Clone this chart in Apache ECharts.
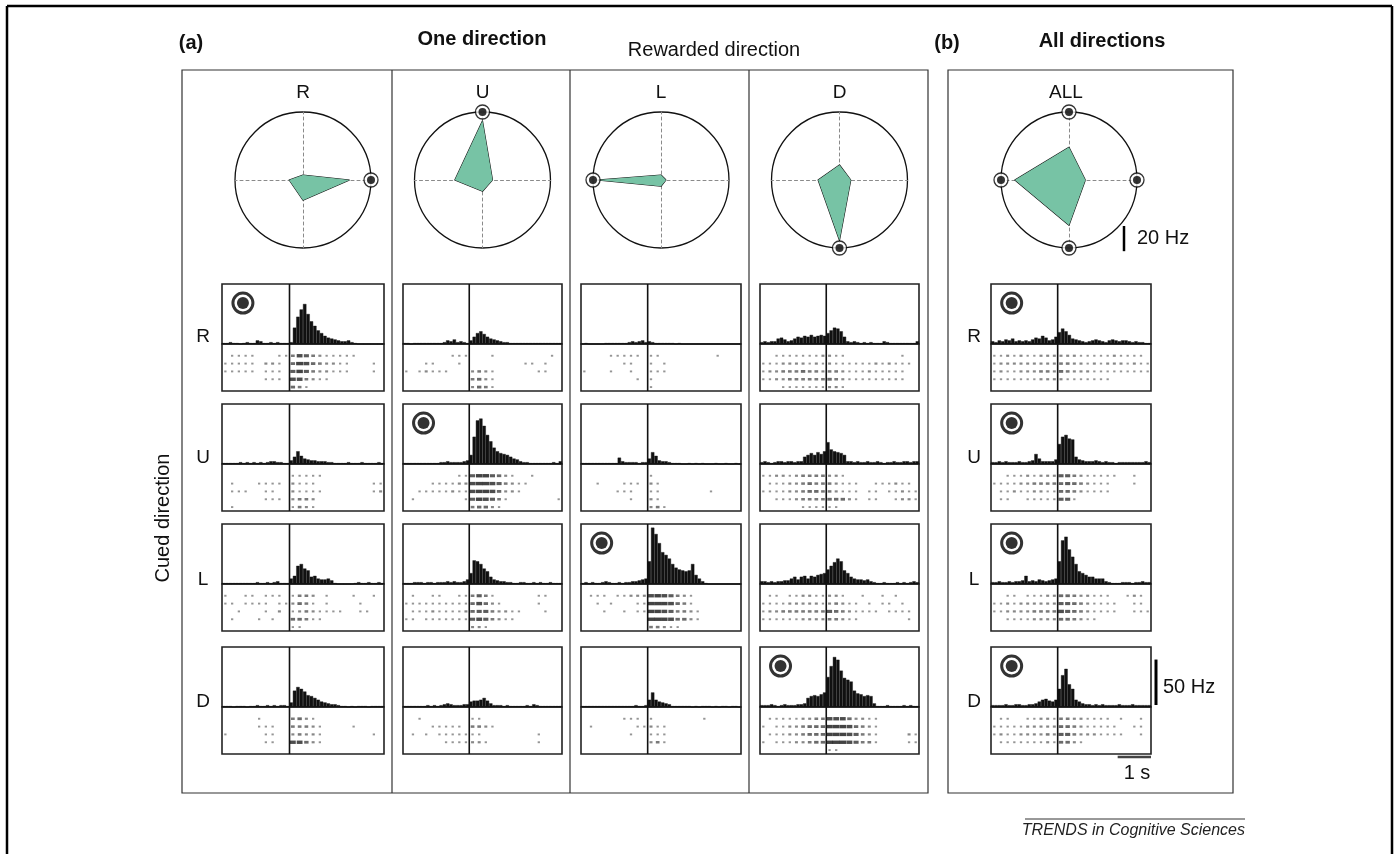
<!DOCTYPE html>
<html><head><meta charset="utf-8">
<script src="https://cdn.jsdelivr.net/npm/echarts@6/dist/echarts.min.js"></script>
<style>html,body{margin:0;padding:0;background:#fff}#c{width:1395px;height:854px}</style>
</head><body><div id="c"></div>
<script>
// ---------------- DATA ----------------
const directions = ['R', 'U', 'L', 'D'];

// Tuning (polar) plots, firing rate in Hz for [R, U, L, D]
const tuningRewR = [37, 4, 11, 16];
const tuningRewU = [8, 47, 22, 9];
const tuningRewL = [4, 4, 51, 5];
const tuningRewD = [9, 12, 17, 48];
const tuningAll  = [13, 26, 43, 36];
const radarMaxHz = 54;

// Rewarded direction(s) for each column
const rewardedR = ['R'];
const rewardedU = ['U'];
const rewardedL = ['L'];
const rewardedD = ['D'];
const rewardedAll = ['R', 'U', 'L', 'D'];

// PSTH time axis (s), 0.1 s bins from -2.0 to 2.8, event at 0
const tMin = -2.0, tMax = 2.8, histBin = 0.1, rasterBin = 0.2, eventTime = 0;
const histMaxHz = 66;
const rasterRows = 6;
const scaleHz = 50, scaleSec = 1, tuningScaleHz = 20;

// PSTH histograms (Hz), name = hist_<rewarded>_<cued>
const hist_R_R = [1,1,2,1,1,0,1,2,1,1,4,3,1,1,2,1,2,1,1,1, 2,18,30,38,44,33,25,20,15,12,9,7,6,5,4,3,3,4,2,1,0,0,0,0,0,0,0,0];
const hist_R_U = [1,1,1,1,1,2,1,2,1,2,1,2,1,2,3,3,2,2,1,1, 4,8,14,9,6,5,4,4,3,3,3,2,2,1,1,1,1,2,1,1,1,2,1,1,1,1,2,1];
const hist_R_L = [1,1,1,1,1,1,1,1,1,1,2,1,1,2,1,2,3,1,1,1, 6,9,20,22,17,15,8,9,6,5,5,6,4,1,0,0,0,0,0,1,2,1,1,2,1,1,2,1];
const hist_R_D = [1,1,1,0,1,1,1,0,1,1,2,1,1,2,1,2,1,2,2,1, 5,18,22,20,17,13,12,10,8,6,5,4,3,3,2,1,1,0,1,0,1,1,1,0,1,1,1,1];

const hist_U_R = [1,1,0,1,1,1,1,1,1,1,1,1,2,4,3,5,2,3,2,1, 4,8,12,14,11,8,6,5,4,3,2,2,1,1,1,1,1,1,1,1,1,1,1,1,1,1,1,1];
const hist_U_U = [1,1,1,1,1,1,1,1,1,1,1,2,2,3,2,2,2,2,3,4, 10,30,48,50,42,32,25,18,14,12,11,10,8,6,5,3,2,2,1,1,1,1,1,1,1,2,1,3];
const hist_U_L = [1,1,1,2,2,2,1,2,2,1,2,2,2,3,2,3,2,2,3,5, 12,26,25,22,17,14,8,5,4,3,3,2,2,1,1,2,2,1,1,2,1,2,1,1,2,1,1,1];
const hist_U_D = [1,1,1,1,1,1,1,2,1,2,1,2,3,4,3,2,2,2,3,3, 6,7,7,8,10,7,4,2,2,2,1,2,1,1,1,1,1,2,1,3,2,1,1,1,1,1,1,1];

const hist_L_R = [0,1,0,0,0,0,0,1,1,1,1,1,1,1,2,3,2,3,4,2, 3,2,1,1,1,1,1,1,0,1,0,0,0,0,0,0,0,0,0,0,0,0,0,0,0,0,0,0];
const hist_L_U = [1,1,1,1,1,1,1,1,1,1,1,7,3,2,2,2,2,1,2,2, 6,13,9,4,3,3,2,1,1,1,0,0,1,0,1,0,1,0,0,0,1,0,0,1,0,0,1,0];
const hist_L_L = [1,2,1,2,1,1,2,3,2,1,1,2,1,2,2,3,3,4,5,6, 25,62,55,45,35,32,28,22,18,16,15,14,15,22,10,6,3,1,0,0,0,0,0,0,0,0,0,0];
const hist_L_D = [1,1,1,1,1,1,1,1,1,1,1,1,1,1,1,1,2,1,1,2, 8,16,8,6,5,4,3,1,1,1,1,1,1,0,1,0,1,1,1,0,1,0,1,1,0,1,1,0];

const hist_D_R = [2,3,2,3,3,6,7,5,3,4,6,8,7,9,8,10,8,9,10,9, 12,15,18,17,14,8,3,2,3,2,1,2,1,2,1,1,1,3,2,1,1,1,1,1,1,1,1,3];
const hist_D_U = [2,3,2,1,2,3,3,2,3,3,2,3,3,8,10,12,10,13,11,14, 24,16,14,13,12,10,3,3,2,3,2,2,3,2,2,3,2,1,2,2,3,2,2,3,3,2,3,3];
const hist_D_L = [3,3,2,3,2,3,3,4,4,6,8,5,8,9,6,9,8,10,11,12, 16,20,24,28,25,15,12,8,6,5,5,4,5,3,2,1,1,2,1,1,1,2,1,2,1,2,3,2];
const hist_D_D = [2,2,2,3,2,1,2,3,2,2,2,3,3,4,10,12,13,12,14,16, 33,45,55,52,40,32,30,28,18,15,14,12,13,12,4,1,1,1,2,1,1,1,1,2,1,2,1,1];

const hist_All_R = [3,2,4,3,5,4,6,3,4,3,4,3,5,7,6,9,7,4,5,8, 13,17,14,10,6,5,4,3,2,3,4,5,4,3,2,4,5,4,3,4,4,3,2,3,2,2,1,1];
const hist_All_U = [2,2,3,2,3,2,2,2,3,2,2,3,4,11,6,3,3,3,3,5, 22,30,32,28,27,8,5,4,3,3,3,4,3,2,3,2,2,1,2,2,2,2,2,2,2,2,3,2];
const hist_All_L = [2,2,3,2,2,3,2,3,3,4,9,3,4,3,5,4,3,4,5,6, 25,48,52,38,30,22,14,12,10,8,8,6,6,6,3,2,1,1,1,2,2,2,1,2,2,3,2,2];
const hist_All_D = [2,2,2,2,3,2,2,3,3,2,2,3,3,4,6,8,9,7,6,8, 20,35,42,25,20,8,6,4,3,3,2,3,2,3,2,2,2,2,3,2,2,2,3,2,2,2,2,2];

// Raster spike density (0-9) per 0.2 s cell, 6 trial bands (top to bottom)
const raster_R_R = ["000000000000000000000000","011110001136532111110000","111110221048643221100010","111110111057532211100010","000000111066321100000000","000000000043100000000000"];
const raster_R_U = ["000000000000000000000000","000000000011111000000000","010001111021110000000011","011100110021111000000012","000000111023320000000000","010000000013210000000000"];
const raster_R_L = ["000000000000000000000000","100110111013320100010010","110111101124310100001000","001000102012321111001100","010001010044311000000000","000000000011000000000000"];
const raster_R_D = ["000000000000000000000000","000001000034210000000000","000001110033321000010000","100000110023221000000010","000000110066421000000000","000000000000000000000000"];

const raster_U_R = ["000000000000000000000000","000000011100010000000010","000110001000000000110100","101211100023210000001100","000000000034210000000000","000000000024310000000000"];
const raster_U_U = ["000000000000000000000000","000000001157754210010000","000011112268865321100000","001111121167764221000000","010000000157653100000001","000000000034421000000000"];
const raster_U_L = ["000000000000000000000000","010011001135310000001100","111111111146421000001000","011121111245532211000100","110111111156532110000000","000000000022100000000000"];
const raster_U_D = ["000000000000000000000000","001000000011000000000000","000011111033210000000000","010101111111000000001000","000000111122100000001000","000000000000000000000000"];

const raster_L_R = ["000000000000000000000000","000011111011000000001000","000000110010100000000000","100010010011100000000000","000000001010000000000000","000000000010000000000000"];
const raster_L_U = ["000000000000000000000000","000000000010000000000000","001000111021000000000000","000001110011000000010000","000000010021000000000000","000000000023100000000000"];
const raster_L_L = ["000000000000000000000000","011101122267653210000000","001010001178764310000000","000100101177653321000000","000000000088764421000000","000000000033211000000000"];
const raster_L_D = ["000000000000000000000000","000000111010000000100000","010000001121100000000000","000000010011100000000000","000000000023100000000000","000000000000000000000000"];

const raster_D_R = ["000000000000000000000000","001111111221100000000100","111222212121111112121110","122333433233211121111100","112233333343211111111100","000111111122100000000000"];
const raster_D_U = ["000000000000000000000000","112212333322100000000000","011122343332111001112110","111122344332111011011211","001112333344421011001221","000000111111000000000000"];
const raster_D_L = ["000000000000000000000000","011011221122100100101000","111122222123211010110100","122333333354321111011110","111111222233211000000010","000000000000000000000000"];
const raster_D_D = ["000000000000000000000000","011111223366642211000000","101122344477764321000000","011122344477765321000021","101112234488865331000011","000000000011000000000000"];

const raster_All_R = ["000000000000000000000000","112121122222211111211110","122222222233221212221211","121122233243222111111111","111111122221111111000000","000000000000000000000000"];
const raster_All_U = ["000000000000000000000000","001112122255321111100100","111122333345432111000100","011211221144321111000000","011001111155100000000000","000000000000000000000000"];
const raster_All_L = ["000000000000000000000000","001101112244322111001210","112122222255432111100110","112222333365432111100111","001111222244321100000000","000000000000000000000000"];
const raster_All_D = ["000000000000000000000000","011001122133221111010010","111112222244321111100110","121122223255322211110010","011111112144210000000000","000000000000000000000000"];

// ---------------- LAYOUT / STYLE ----------------
const FONT = "'Liberation Sans', Arial, Helvetica, sans-serif";
const colLeft = [222, 403, 581, 760, 991];
const colW = [162, 159, 160, 159, 160];
const rowTop = [284, 404, 524, 647];
const histH = 60, rasterH = 47;
const polarCy = 180, polarRadius = 68;
const polarCx = colLeft.map((l, i) => l + colW[i] / 2);
polarCx[4] = 1069;
const cueMarkT = -1.38, cueMarkHz = 45;
const fillGreen = '#77c3a5';

const columns = [
  { title: 'R', tuning: tuningRewR, rewarded: rewardedR, hist: [hist_R_R, hist_R_U, hist_R_L, hist_R_D], raster: [raster_R_R, raster_R_U, raster_R_L, raster_R_D] },
  { title: 'U', tuning: tuningRewU, rewarded: rewardedU, hist: [hist_U_R, hist_U_U, hist_U_L, hist_U_D], raster: [raster_U_R, raster_U_U, raster_U_L, raster_U_D] },
  { title: 'L', tuning: tuningRewL, rewarded: rewardedL, hist: [hist_L_R, hist_L_U, hist_L_L, hist_L_D], raster: [raster_L_R, raster_L_U, raster_L_L, raster_L_D] },
  { title: 'D', tuning: tuningRewD, rewarded: rewardedD, hist: [hist_D_R, hist_D_U, hist_D_L, hist_D_D], raster: [raster_D_R, raster_D_U, raster_D_L, raster_D_D] },
  { title: 'ALL', tuning: tuningAll, rewarded: rewardedAll, hist: [hist_All_R, hist_All_U, hist_All_L, hist_All_D], raster: [raster_All_R, raster_All_U, raster_All_L, raster_All_D] }
];

const nBins = Math.round((tMax - tMin) / histBin);
const binLabels = Array.from({ length: nBins }, (_, i) => String(i));

const grids = [], xAxes = [], yAxes = [], series = [];
let bdRaster = null;

columns.forEach((col, k) => {
  directions.forEach((cue, j) => {
    const gi = grids.length;
    const left = colLeft[k], top = rowTop[j], w = colW[k];
    grids.push({ left: left, top: top, width: w, height: histH, show: true, borderColor: '#222', borderWidth: 1.6 });
    grids.push({ left: left, top: top + histH, width: w, height: rasterH, show: true, borderColor: '#222', borderWidth: 1.6 });
    const xCat = xAxes.length;
    xAxes.push({ gridIndex: gi, type: 'category', data: binLabels, show: false, boundaryGap: true });
    const xVal = xAxes.length;
    xAxes.push({ gridIndex: gi, type: 'value', min: tMin, max: tMax, show: false });
    const xRas = xAxes.length;
    xAxes.push({ gridIndex: gi + 1, type: 'value', min: tMin, max: tMax, show: false });
    const yH = yAxes.length;
    yAxes.push({ gridIndex: gi, type: 'value', min: 0, max: histMaxHz, show: false });
    const yR = yAxes.length;
    yAxes.push({ gridIndex: gi + 1, type: 'value', min: 0, max: rasterRows, show: false });

    series.push({ type: 'bar', xAxisIndex: xCat, yAxisIndex: yH, data: col.hist[j], barCategoryGap: '0%', silent: true,
      itemStyle: { color: '#111', borderColor: '#111', borderWidth: 0.4 }, z: 3 });

    const pts = [];
    col.raster[j].forEach((s, r) => {
      for (let c = 0; c < s.length; c++) {
        const d = +s[c];
        if (d > 0) pts.push([tMin + (c + 0.5) * rasterBin, rasterRows - 0.5 - r, d]);
      }
    });
    series.push({ type: 'scatter', xAxisIndex: xRas, yAxisIndex: yR, data: pts, silent: true, z: 2,
      symbol: 'rect', symbolSize: v => [Math.min(7, 1.6 + 0.7 * v[2]), 1.6 + 0.3 * Math.min(v[2], 6)],
      itemStyle: { color: p => 'rgba(0,0,0,' + Math.min(0.92, 0.45 + 0.07 * p.value[2]).toFixed(2) + ')' } });

    series.push({ type: 'line', xAxisIndex: xVal, yAxisIndex: yH, data: [[eventTime, 0], [eventTime, histMaxHz]], symbol: 'none', silent: true,
      lineStyle: { color: '#111', width: 1.6 }, z: 5 });
    series.push({ type: 'line', xAxisIndex: xRas, yAxisIndex: yR, data: [[eventTime, 0], [eventTime, rasterRows]], symbol: 'none', silent: true,
      lineStyle: { color: '#111', width: 1.6 }, z: 5 });

    if (col.rewarded.indexOf(cue) >= 0) {
      series.push({ type: 'scatter', xAxisIndex: xVal, yAxisIndex: yH, data: [[cueMarkT, cueMarkHz]], symbol: 'circle', symbolSize: 20, silent: true,
        itemStyle: { color: '#fff', borderColor: '#000', borderWidth: 3 }, z: 6 });
      series.push({ type: 'scatter', xAxisIndex: xVal, yAxisIndex: yH, data: [[cueMarkT, cueMarkHz]], symbol: 'circle', symbolSize: 12, silent: true,
        itemStyle: { color: '#000' }, z: 7 });
    }
    if (k === 4 && j === 3) { bdRaster = { x: xRas, y: yR }; }
  });
});

// 1 s scale bar under the last panel
series.push({ type: 'line', xAxisIndex: bdRaster.x, yAxisIndex: bdRaster.y, clip: false, symbol: 'none', silent: true,
  data: [[tMax - scaleSec, -0.38], [tMax, -0.38]], lineStyle: { color: '#444', width: 2.5 } });

// radar / polar tuning plots
const radars = [], polars = [], angleAxes = [], radiusAxes = [];
columns.forEach((col, i) => {
  radars.push({ center: [polarCx[i], polarCy], radius: polarRadius, startAngle: 0, shape: 'circle', splitNumber: 1,
    indicator: directions.map(d => ({ name: d, max: radarMaxHz, min: 0 })),
    axisName: { show: false },
    axisLine: { lineStyle: { color: '#8a8a8a', type: [3, 3], width: 1 } },
    splitLine: { lineStyle: { color: '#111', width: 1.3 } },
    splitArea: { show: false } });
  series.push({ type: 'radar', radarIndex: i, symbol: 'none', silent: true, z: 3,
    data: [{ value: col.tuning }],
    lineStyle: { color: '#111', width: 1.1 },
    areaStyle: { color: fillGreen, opacity: 1 } });
  polars.push({ center: [polarCx[i], polarCy], radius: polarRadius });
  angleAxes.push({ polarIndex: i, type: 'category', data: directions, startAngle: 0, clockwise: false, boundaryGap: false, show: false });
  radiusAxes.push({ polarIndex: i, type: 'value', min: 0, max: radarMaxHz, show: false });
  const marks = col.rewarded.map(d => [radarMaxHz, directions.indexOf(d)]);
  series.push({ type: 'scatter', coordinateSystem: 'polar', polarIndex: i, data: marks, symbol: 'circle', symbolSize: 14, silent: true, z: 8,
    itemStyle: { color: '#fff', borderColor: '#000', borderWidth: 1.3 } });
  series.push({ type: 'scatter', coordinateSystem: 'polar', polarIndex: i, data: marks, symbol: 'circle', symbolSize: 8, silent: true, z: 9,
    itemStyle: { color: '#000' } });
});

// ---------------- TEXT & FRAMES ----------------
const txt = (x, y, text, o) => Object.assign({ type: 'text', x: x, y: y, silent: true, z: 50,
  style: Object.assign({ text: text, font: (o && o.font) || ('20px ' + FONT), fill: '#111', align: 'center', verticalAlign: 'middle' }, (o && o.style) || {}) }, (o && o.extra) || {});
const line = (x1, y1, x2, y2, w, c) => ({ type: 'line', silent: true, z: 40, shape: { x1, y1, x2, y2 }, style: { stroke: c || '#111', lineWidth: w } });
const rect = (x, y, w, h, lw, c) => ({ type: 'rect', silent: true, z: 40, shape: { x, y, width: w, height: h }, style: { fill: 'none', stroke: c || '#333', lineWidth: lw } });

const hzBarBottom = rowTop[3] + histH - 2;
const hzBarLen = histH * scaleHz / histMaxHz;
const rowLabelY = [337, 458, 580, 702];
const graphic = [
  line(7, 6, 1392, 6, 2.5, '#000'), line(7, 6, 7, 854, 2.5, '#000'), line(1392, 6, 1392, 854, 2.5, '#000'),
  rect(182, 70, 746, 723, 1.2), rect(948, 70, 285, 723, 1.2),
  line(392, 70, 392, 793, 1.2, '#333'), line(570, 70, 570, 793, 1.2, '#333'), line(749, 70, 749, 793, 1.2, '#333'),
  txt(191, 43, '(a)', { font: 'bold 20px ' + FONT }),
  txt(482, 39, 'One direction', { font: 'bold 20px ' + FONT }),
  txt(714, 50, 'Rewarded direction'),
  txt(947, 43, '(b)', { font: 'bold 20px ' + FONT }),
  txt(1102, 41, 'All directions', { font: 'bold 20px ' + FONT }),
  txt(163, 518, 'Cued direction', { extra: { rotation: Math.PI / 2 } }),
  line(1124, 226, 1124, 226 + polarRadius * tuningScaleHz / radarMaxHz, 2.5, '#000'),
  txt(1137, 238, tuningScaleHz + ' Hz', { style: { align: 'left' } }),
  line(1156, hzBarBottom, 1156, hzBarBottom - hzBarLen, 3, '#000'),
  txt(1163, 687, scaleHz + ' Hz', { style: { align: 'left' } }),
  txt(1137, 773, scaleSec + ' s'),
  line(1025, 819, 1245, 819, 1, '#333'),
  txt(1245, 831, 'TRENDS in Cognitive Sciences', { font: 'italic 16px ' + FONT, style: { align: 'right', fill: '#222' } })
];
columns.forEach((col, i) => graphic.push(txt(polarCx[i] - (i === 4 ? 3 : 0), 93, col.title, { font: '19px ' + FONT })));
directions.forEach((d, j) => {
  graphic.push(txt(203, rowLabelY[j], d, { font: '19px ' + FONT }));
  graphic.push(txt(974, rowLabelY[j], d, { font: '19px ' + FONT }));
});

const chart = echarts.init(document.getElementById('c'), null, { renderer: 'canvas' });
chart.setOption({
  animation: false,
  backgroundColor: '#fff',
  grid: grids, xAxis: xAxes, yAxis: yAxes,
  radar: radars, polar: polars, angleAxis: angleAxes, radiusAxis: radiusAxes,
  series: series,
  graphic: graphic
});
</script></body></html>
